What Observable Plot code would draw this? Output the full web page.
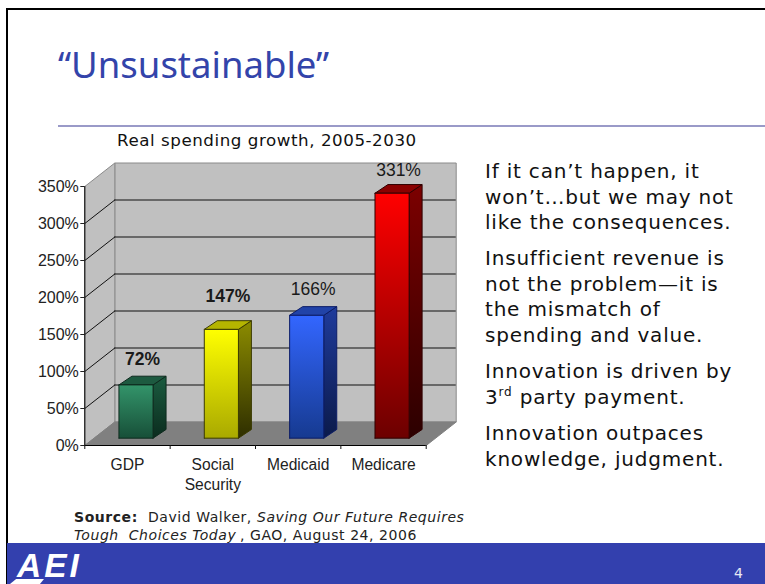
<!DOCTYPE html>
<html>
<head>
<meta charset="utf-8">
<script src="https://cdn.jsdelivr.net/npm/d3@7"></script>
<script src="https://cdn.jsdelivr.net/npm/@observablehq/plot@0.6"></script>
<style>
html,body{margin:0;padding:0;background:#fff;overflow:hidden}
#slide{position:relative;width:765px;height:584px;overflow:hidden;background:#fff;font-family:"DejaVu Sans",sans-serif;color:#111}
#slide>*{position:absolute}
.fr{background:#000}
#title{left:58px;top:39px;font:36.5px/50px "Noto Sans",sans-serif;color:#3344aa;white-space:nowrap;margin:0;font-weight:400}
#rule{left:58px;top:125px;width:707px;height:2px;background:#9a9ac8}
#sub{left:117px;top:129px;font-size:16.7px;letter-spacing:.55px;line-height:22px;white-space:nowrap;color:#111}
.body{left:485px;font-size:20px;letter-spacing:.8px;line-height:25.7px;white-space:nowrap;color:#111}
.body sup{font-size:12px;line-height:0}
.src{font-size:14px;letter-spacing:.55px;line-height:18px;white-space:pre;color:#222}
#band{left:7px;top:543px;width:758px;height:41px;background:#3340ae}
#logo{left:17px;top:547px;font:italic 700 33.5px/38px "Liberation Sans",sans-serif;letter-spacing:3px;color:#fff;white-space:nowrap}
#swoosh{left:10px;top:579px;width:34px;height:5px;background:#fff;clip-path:polygon(18% 0,100% 0,88% 100%,0 100%)}
#num{left:734px;top:564px;font-size:14px;line-height:18px;color:#e8e8f4}
#chart{left:30px;top:150px}
</style>
</head>
<body>
<div id="slide">
  <div class="fr" style="left:6px;top:8px;width:2px;height:576px"></div>
  <div class="fr" style="left:6px;top:8px;width:759px;height:2px"></div>
  <h1 id="title">“Unsustainable”</h1>
  <div id="rule"></div>
  <div id="sub">Real spending growth, 2005-2030</div>
  <div class="body" style="top:159px">If it can’t happen, it<br>won’t…but we may not<br>like the consequences.</div>
  <div class="body" style="top:246px">Insufficient revenue is<br>not the problem—it is<br>the mismatch of<br>spending and value.</div>
  <div class="body" style="top:359px">Innovation is driven by<br>3<sup>rd</sup> party payment.</div>
  <div class="body" style="top:421px">Innovation outpaces<br>knowledge, judgment.</div>
  <div class="src" style="left:74px;top:508px;font-weight:700">Source:</div>
  <div class="src" style="left:148px;top:508px">David Walker,</div>
  <div class="src" style="left:257px;top:508px;font-style:italic">Saving Our Future Requires</div>
  <div class="src" style="left:74px;top:526px;font-style:italic">Tough  Choices Today</div>
  <div class="src" style="left:240px;top:526px">, GAO, August 24, 2006</div>
  <div id="band"></div>
  <div id="logo">AEI</div>
  <div id="swoosh"></div>
  <div id="num">4</div>
</div>
<script>
const categories = ["GDP", "Social\nSecurity", "Medicaid", "Medicare"];
const values = [72, 147, 166, 331];
const yTicks = [0, 50, 100, 150, 200, 250, 300, 350];
const boundaries = [0, 1, 2, 3, 4];
const labelCentres = [0.5, 1.5, 2.5, 3.5];

// Drawing constants, in data units of the x (category) and y (percent) scales
const wall = {dx: 0.3515, dy: 31.75};
const bar = {off: 0.1, lift: 9.9, half: 0.2, dx: 0.152, dy: 11.75};
const palette = [
  {id: "g", front: ["#33946a", "#174f38"], side: ["#1b5c40", "#0b2c1e"], top: "#1d5a40", line: "#0e2a1e"},
  {id: "y", front: ["#ffff00", "#a9a900"], side: ["#8c8c00", "#2e2e00"], top: "#b5b500", line: "#3a3a00"},
  {id: "b", front: ["#3366ff", "#163a90"], side: ["#1f3b9c", "#0b1a4a"], top: "#2143a8", line: "#0c1c66"},
  {id: "r", front: ["#ff0000", "#6c0000"], side: ["#7c0000", "#2c0000"], top: "#8a0000", line: "#300000"}
];
const labelNudge = [-17, -24, -17, -14];
const labelWeight = [700, 700, 400, 400];

const poly = pts => pts.map(([x, y]) => ({x, y}));
const face = (pts, fill, stroke, sw = 1) =>
  Plot.line(poly([...pts, pts[0]]), {x: "x", y: "y", fill, stroke, strokeWidth: sw, curve: "linear", strokeLinejoin: "miter"});

const defs = () => {
  const d = d3.create("svg:defs");
  const grad = (id, cs) => {
    const g = d.append("linearGradient").attr("id", id).attr("x1", 0).attr("x2", 0).attr("y1", 0).attr("y2", 1);
    g.append("stop").attr("offset", "0%").attr("stop-color", cs[0]);
    g.append("stop").attr("offset", "100%").attr("stop-color", cs[1]);
  };
  palette.forEach(p => { grad(p.id + "f", p.front); grad(p.id + "s", p.side); });
  return d.node();
};

const barFaces = values.flatMap((v, i) => {
  const p = palette[i];
  const x0 = i + 0.5 + bar.off - bar.half, x1 = i + 0.5 + bar.off + bar.half;
  const b = bar.lift, t = v + bar.lift;
  return [
    face([[x1, b], [x1 + bar.dx, b + bar.dy], [x1 + bar.dx, t + bar.dy], [x1, t]], `url(#${p.id}s)`, p.line),
    face([[x0, t], [x1, t], [x1 + bar.dx, t + bar.dy], [x0 + bar.dx, t + bar.dy]], p.top, p.line),
    face([[x0, b], [x1, b], [x1, t], [x0, t]], `url(#${p.id}f)`, p.line)
  ];
});

const chart = Plot.plot({
  width: 440, height: 345,
  marginLeft: 54.3, marginRight: 44.3, marginTop: 36, marginBottom: 50,
  x: {domain: [0, 4], axis: null},
  y: {domain: [0, 350], axis: null},
  style: {background: "transparent", fontFamily: "'Liberation Sans',Arial,sans-serif", overflow: "visible"},
  marks: [
    defs,
    // back wall, side wall, floor
    face([[wall.dx, wall.dy], [4 + wall.dx, wall.dy], [4 + wall.dx, 350 + wall.dy], [wall.dx, 350 + wall.dy]], "#c0c0c0", "#8a8a8a"),
    face([[0, 0], [wall.dx, wall.dy], [wall.dx, 350 + wall.dy], [0, 350]], "#c0c0c0", "#8a8a8a"),
    Plot.ruleY(yTicks.slice(1, -1), {x1: wall.dx, x2: 4 + wall.dx, y: d => d + wall.dy, stroke: "#111", strokeWidth: 1}),
    ...yTicks.slice(1, -1).map(t => Plot.line(poly([[0, t], [wall.dx, t + wall.dy]]), {x: "x", y: "y", stroke: "#111", strokeWidth: 1})),
    face([[0, 0], [4, 0], [4 + wall.dx, wall.dy], [wall.dx, wall.dy]], "#808080", "#808080"),
    ...barFaces,
    // value labels
    ...values.map((v, i) => Plot.text([v], {
      x: () => i + 0.5 + bar.off + bar.dx / 2, y: () => v + bar.lift + bar.dy,
      text: d => d + "%", dy: labelNudge[i], fontSize: 17.5, fontWeight: labelWeight[i], fill: "#1a1a1a"
    })),
    // axes
    Plot.ruleX([0], {y1: 0, y2: 350, stroke: "#000"}),
    Plot.ruleY([0], {x1: 0, x2: 4, stroke: "#000"}),
    Plot.axisY({ticks: yTicks, tickFormat: d => d + "%", tickSize: 4, tickPadding: 2, fontSize: 16, label: null, color: "#222"}),
    Plot.axisX({ticks: boundaries, tickFormat: () => "", tickSize: 4, label: null}),
    Plot.axisX({ticks: labelCentres, tickFormat: d => categories[d - 0.5], tickSize: 0, tickPadding: 10, fontSize: 15.6, lineHeight: 1.3, label: null, color: "#222"})
  ]
});
chart.id = "chart";
document.getElementById("slide").appendChild(chart);
</script>
</body>
</html>
